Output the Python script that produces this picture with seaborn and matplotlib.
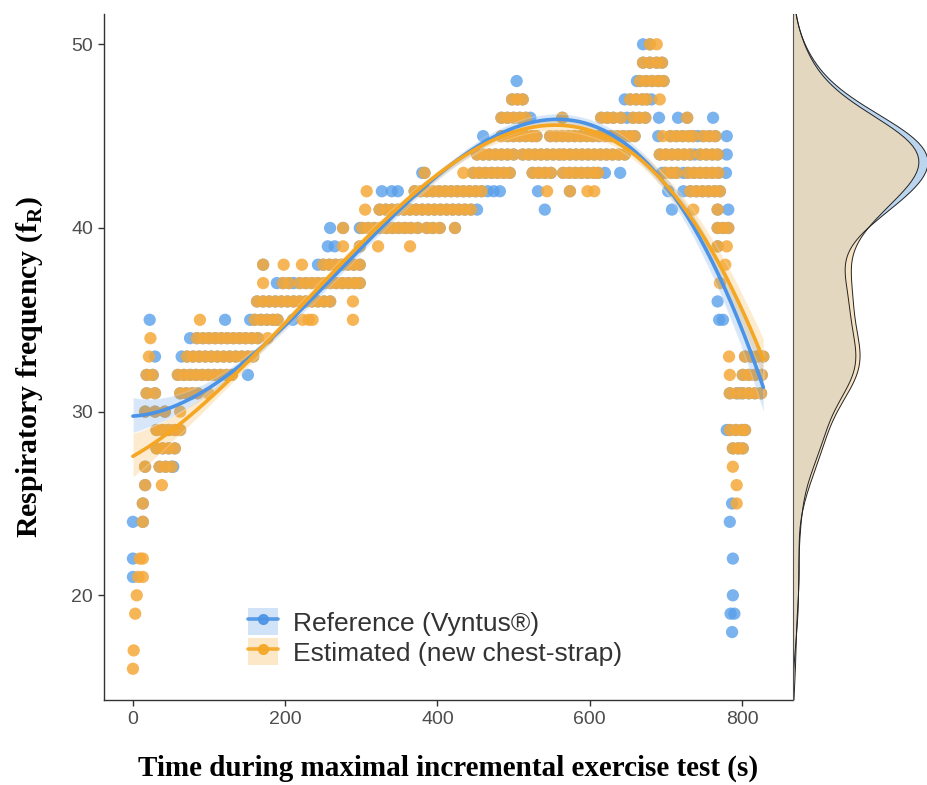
import numpy as np
import pandas as pd
import matplotlib
matplotlib.use("Agg")
import matplotlib.pyplot as plt
import seaborn as sns
from matplotlib.lines import Line2D
from matplotlib.patches import Patch

# ---------------- data ----------------
# points recorded by both devices (same time, same value)
shared_t = [679,
            670, 679, 688, 695,
            666, 674, 682, 690, 697,
            498, 505, 512, 653, 661, 669, 675,
            484, 492, 500, 508, 516, 564, 615, 623, 631, 641, 657, 665, 673, 728,
            484, 492, 500, 508, 516, 524, 530, 548, 556, 564, 572, 580, 588, 596, 604, 612, 620, 628, 636, 644, 652, 659, 706, 714, 722, 730, 736, 749, 757, 765,
            452, 460, 468, 476, 484, 492, 500, 512, 520, 528, 536, 544, 552, 560, 566, 574, 582, 590, 598, 606, 614, 622, 630, 638, 646, 692, 700, 708, 716, 724, 732, 745, 753, 761, 768,
            383, 447, 455, 463, 471, 479, 487, 495, 525, 533, 541, 549, 565, 573, 581, 589, 597, 605, 611, 699, 707, 714, 729, 737, 745, 753, 761, 769,
            370, 378, 386, 394, 402, 410, 418, 426, 434, 442, 450, 458, 574, 732, 740, 748, 756, 764, 771,
            324, 332, 340, 348, 356, 364, 372, 380, 388, 396, 404, 412, 420, 428, 436, 444, 768,
            276, 301, 309, 317, 325, 333, 341, 349, 357, 365, 374, 386, 394, 403, 423, 768, 775, 782,
            298, 768,
            171, 250, 258, 266, 274, 282, 290, 298,
            197, 205, 219, 227, 235, 243, 251, 259, 267, 275, 283, 291, 298,
            163, 171, 179, 187, 195, 203, 211, 219, 227, 235, 243, 251, 259,
            160, 168, 176, 184, 190,
            84, 92, 100, 108, 116, 124, 132, 140, 148, 156, 164,
            71, 79, 87, 95, 103, 111, 119, 127, 135, 143, 151, 158, 804, 812, 820, 828,
            18, 26, 59, 67, 75, 83, 91, 99, 107, 115, 123, 130, 801, 809, 817, 826,
            18, 29, 62, 70, 78, 85, 784, 793, 801, 809, 817, 825,
            16, 29, 42,
            31, 39, 47, 55, 62, 784, 792, 800, 804,
            31, 39, 47, 55, 788, 795, 801,
            16, 35, 43, 51,
            16,
            13,
            13]
shared_f = ([50] * 1 + [49] * 4 + [48] * 5 + [47] * 7 + [46] * 14 + [45] * 30 +
            [44] * 35 + [43] * 28 + [42] * 19 + [41] * 17 + [40] * 18 + [39] * 2 +
            [38] * 8 + [37] * 13 + [36] * 13 + [35] * 5 + [34] * 11 + [33] * 16 +
            [32] * 16 + [31] * 12 + [30] * 3 + [29] * 9 + [28] * 7 + [27] * 4 +
            [26] * 1 + [25] * 1 + [24] * 1)

# points visible only for the reference device (Vyntus)
ref_t = [670, 662, 504, 646, 681, 522, 649, 691, 716, 762, 460, 690, 742, 780,
         738, 780, 380, 620, 640, 695, 723, 779,
         327, 340, 348, 466, 474, 482, 532, 703, 723,
         452, 541, 708, 782, 259, 298, 256, 265, 243, 189, 211, 768,
         22, 121, 154, 210, 770, 775, 75, 29, 64, 151, 797, 780, 53, 787,
         0, 784, 0, 788, 0, 788, 785, 790, 787]
ref_f = [50, 48, 48, 47, 47, 46, 46, 46, 46, 46, 45, 45, 45, 45,
         44, 44, 43, 43, 43, 43, 43, 43,
         42, 42, 42, 42, 42, 42, 42, 42, 42,
         41, 41, 41, 41, 40, 40, 39, 39, 38, 37, 37, 36,
         35, 35, 35, 35, 35, 35, 34, 33, 33, 32, 31, 29, 27, 25,
         24, 24, 22, 22, 21, 20, 19, 19, 18]

# points visible only for the new chest-strap estimate
est_t = [688, 692, 696, 434, 307, 544, 597, 606, 305, 736,
         276, 322, 364, 780, 198, 222, 778, 171, 771, 289,
         88, 223, 231, 236, 289, 23, 177, 21, 783, 784, 99, 62,
         788, 38, 793, 793, 9, 13, 7, 13, 5, 3, 1, 0]
est_f = [50, 47, 45, 43, 42, 42, 42, 42, 41, 41,
         39, 39, 39, 39, 38, 38, 38, 37, 37, 36,
         35, 35, 35, 35, 35, 34, 34, 33, 33, 32, 31, 30,
         27, 26, 26, 25, 22, 22, 21, 21, 20, 19, 17, 16]

series_labels = ["Reference (Vyntus\u00ae)", "Estimated (new chest-strap)"]
x_ticks = [0, 200, 400, 600, 800]
y_ticks = [20, 30, 40, 50]

# ---------------- styling ----------------
BLUE = "#5AA0EA"
ORANGE = "#F5A93A"
BLUE_LINE = "#4A93E6"
ORANGE_LINE = "#F5A623"

sns.set_theme(style="white")
plt.rcParams["font.family"] = ["Liberation Sans", "DejaVu Sans"]

ref = pd.DataFrame({"t": shared_t + ref_t, "f": shared_f + ref_f})
est = pd.DataFrame({"t": shared_t + est_t, "f": shared_f + est_f})

W, H = 928, 785
fig = plt.figure(figsize=(W / 100, H / 100), dpi=100)
ax = fig.add_axes([104 / W, 1 - 700 / H, 689 / W, 686 / H])
axm = fig.add_axes([793 / W, 1 - 700 / H, 135 / W, 686 / H], sharey=ax)

sns.scatterplot(data=ref, x="t", y="f", color=BLUE, s=78, alpha=0.8,
                edgecolor="none", linewidth=0, ax=ax, zorder=2)
sns.scatterplot(data=est, x="t", y="f", color=ORANGE, s=78, alpha=0.86,
                edgecolor="none", linewidth=0, ax=ax, zorder=3)
sns.regplot(data=ref, x="t", y="f", order=3, scatter=False, ci=80, n_boot=300,
            seed=1, color=BLUE_LINE, line_kws=dict(lw=2.6, zorder=5), ax=ax)
sns.regplot(data=est, x="t", y="f", order=3, scatter=False, ci=80, n_boot=300,
            seed=1, color=ORANGE_LINE, line_kws=dict(lw=2.6, zorder=6), ax=ax)
for coll in ax.collections[2:]:
    coll.set_alpha(0.22)
    coll.set_zorder(4)

ax.set_xlim(-38, 867)
ax.set_ylim(14.3, 51.65)
ax.set_xticks(x_ticks)
ax.set_yticks(y_ticks)
for s in ["top", "right"]:
    ax.spines[s].set_visible(False)
for s in ["left", "bottom"]:
    ax.spines[s].set_color("#333333")
    ax.spines[s].set_linewidth(1.0)
ax.tick_params(axis="both", which="major", length=4, width=1.0, color="#333333",
               labelsize=14, labelcolor="#4D4D4D", direction="out",
               bottom=True, left=True, pad=4)
ax.set_xlabel("Time during maximal incremental exercise test (s)",
              fontfamily="Liberation Serif", fontweight="bold", fontsize=21,
              color="black", labelpad=19)
ax.set_ylabel(r"Respiratory frequency (f$_\mathregular{R}$)",
              fontfamily="Liberation Serif", fontweight="bold", fontsize=21.5,
              color="black")
ax.yaxis.set_label_coords(-0.086, 0.485)

# legend
h_ref = (Patch(facecolor=BLUE_LINE, alpha=0.25, edgecolor="none"),
         Line2D([], [], color=BLUE_LINE, lw=2.6, marker="o", ms=7, alpha=0.9))
h_est = (Patch(facecolor=ORANGE_LINE, alpha=0.25, edgecolor="none"),
         Line2D([], [], color=ORANGE_LINE, lw=2.6, marker="o", ms=7, alpha=0.9))
ax.legend([h_ref, h_est], series_labels, loc="upper left",
          bbox_to_anchor=(0.209, 0.134), frameon=False, fontsize=19,
          handlelength=1.15, handleheight=1.2, handletextpad=0.55,
          labelspacing=0.1, borderpad=0.0, borderaxespad=0.0,
          labelcolor="#333333")

# marginal density
bw_adj = 0.75
sns.kdeplot(data=ref, y="f", ax=axm, fill=True, color="#BCD5EF", alpha=1.0,
            bw_method="silverman", bw_adjust=bw_adj, cut=4, linewidth=0)
sns.kdeplot(data=est, y="f", ax=axm, fill=True, color="#F3D9AE", alpha=0.72,
            bw_method="silverman", bw_adjust=bw_adj, cut=4, linewidth=0)
sns.kdeplot(data=ref, y="f", ax=axm, fill=False, color="#222222",
            bw_method="silverman", bw_adjust=bw_adj, cut=4, linewidth=0.7)
sns.kdeplot(data=est, y="f", ax=axm, fill=False, color="#222222",
            bw_method="silverman", bw_adjust=bw_adj, cut=4, linewidth=0.7)
dmax = max(l.get_xdata().max() for l in axm.lines)
axm.set_xlim(0, dmax * 1.0)
axm.set_xlabel("")
axm.set_ylabel("")
axm.tick_params(left=False, bottom=False, labelleft=False, labelbottom=False)
for s in ["top", "right", "bottom"]:
    axm.spines[s].set_visible(False)
axm.spines["left"].set_color("#555555")
axm.spines["left"].set_linewidth(0.8)
axm.patch.set_alpha(0)

fig.savefig("out.png", dpi=100)
